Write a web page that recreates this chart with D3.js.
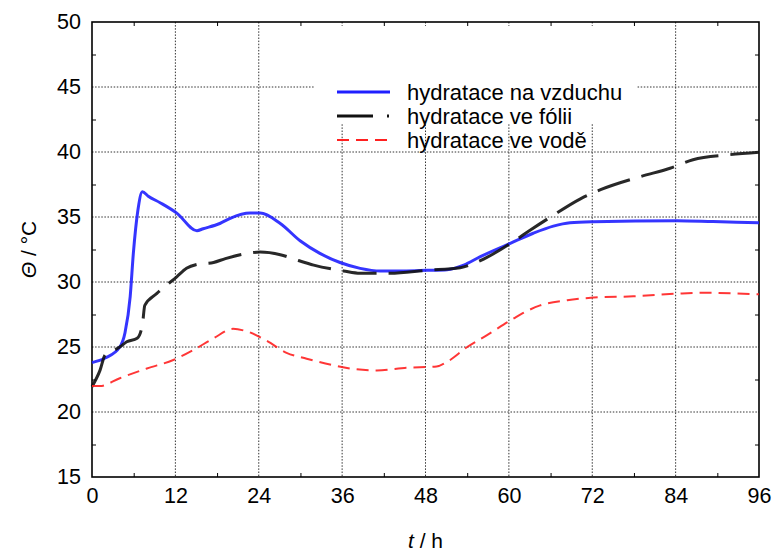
<!DOCTYPE html>
<html>
<head>
<meta charset="utf-8">
<script src="https://cdn.jsdelivr.net/npm/d3@7/dist/d3.min.js"></script>
<style>
  body { margin: 0; background: #fff; }
  text { font-family: "Liberation Sans", Arial, sans-serif; fill: #000; }
  .grid line { stroke: #333; stroke-width: 1; stroke-dasharray: 1.5,1.6; }
  .axis path { display: none; }
  .axis line { stroke: #000; }
</style>
</head>
<body>
<div id="chart"></div>
<script>
// series: time [h], temperature [°C]
const airT = [0, 1.9, 4, 4.75, 5.5, 5.95, 6.6, 7.25, 8.1, 9.8, 12.2, 15.1, 16, 18.4, 19.9, 22.75, 24.2, 27.1, 30, 32.8, 35.7, 38.6, 41.5, 45.3, 48.2, 51.1, 53.5, 55.9, 60.2, 63.5, 66.4, 68.8, 72.2, 84.2, 89.4, 96];
const airV = [23.8, 24.15, 25.0, 26.1, 28.9, 32.2, 35.5, 36.95, 36.6, 36.1, 35.3, 33.95, 34.1, 34.5, 34.9, 35.3, 35.3, 34.5, 33.15, 32.2, 31.5, 31.05, 30.85, 30.85, 30.9, 30.95, 31.3, 31.95, 32.97, 33.75, 34.3, 34.56, 34.64, 34.72, 34.65, 34.56];

const foilT = [0, 1.15, 1.9, 2.6, 4, 5, 6.5, 7.25, 7.6, 9.3, 12.2, 13.6, 15.1, 17.5, 19.2, 21.8, 24.2, 27.1, 29.7, 31.9, 36.2, 38.6, 42.9, 48.2, 53, 55.9, 60.6, 63.1, 66, 70.3, 73.2, 78.9, 83.2, 86.5, 91.4, 96];
const foilV = [21.95, 23.2, 24.4, 24.6, 25.0, 25.4, 25.67, 26.7, 28.2, 29.1, 30.4, 31.05, 31.35, 31.5, 31.8, 32.15, 32.3, 32.1, 31.65, 31.3, 30.85, 30.67, 30.67, 30.9, 31.1, 31.65, 33.1, 34.0, 35.0, 36.4, 37.1, 38.1, 38.75, 39.4, 39.77, 39.98];

const waterT = [0, 1.15, 4, 7.9, 11.7, 14.6, 17.5, 20.3, 22.3, 25.1, 28, 30.9, 34.7, 38.1, 41, 45.3, 49.6, 51.1, 54, 56.8, 60.7, 62, 64.5, 68.4, 72.2, 77.9, 84.2, 88.5, 96];
const waterV = [22.0, 22.0, 22.6, 23.35, 24.0, 24.77, 25.67, 26.4, 26.2, 25.5, 24.55, 24.1, 23.6, 23.28, 23.2, 23.4, 23.5, 23.85, 25.0, 25.9, 27.2, 27.6, 28.2, 28.6, 28.8, 28.9, 29.1, 29.17, 29.05];

const xTicks = [0, 12, 24, 36, 48, 60, 72, 84, 96];
const yTicks = [15, 20, 25, 30, 35, 40, 45, 50];
const legendLabels = ['hydratace na vzduchu', 'hydratace ve fólii', 'hydratace ve vodě'];

const width = 773, height = 551;
const margin = {top: 22, right: 14, bottom: 74, left: 92};
const innerW = width - margin.left - margin.right;
const innerH = height - margin.top - margin.bottom;

const svg = d3.select('#chart').append('svg')
    .attr('width', width)
    .attr('height', height);

const chart = svg.append('g')
    .attr('transform', `translate(${margin.left},${margin.top})`);

const x = d3.scaleLinear().domain([0, 96]).range([0, innerW]);
const y = d3.scaleLinear().domain([15, 50]).range([innerH, 0]);

// dotted grid
const grid = chart.append('g').attr('class', 'grid');
grid.selectAll('.gx')
    .data(xTicks.slice(1, -1))
    .join('line')
    .attr('x1', d => x(d)).attr('x2', d => x(d))
    .attr('y1', 0).attr('y2', innerH);
grid.selectAll('.gy')
    .data(yTicks.slice(1, -1))
    .join('line')
    .attr('x1', 0).attr('x2', innerW)
    .attr('y1', d => y(d)).attr('y2', d => y(d));

// white legend background hides the grid behind it
chart.append('rect')
    .attr('x', x(32)).attr('y', y(49.7))
    .attr('width', x(78.3) - x(32))
    .attr('height', y(42.2) - y(49.7))
    .attr('fill', '#fff');

// minor ticks (inward) on all four sides
const minorX = d3.range(6, 96, 12);
const minorY = d3.range(17.5, 50, 5);
chart.append('g').attr('class', 'axis')
    .attr('transform', `translate(0,${innerH})`)
    .call(d3.axisBottom(x).tickValues(minorX).tickSize(-4).tickFormat(''));
chart.append('g').attr('class', 'axis')
    .call(d3.axisTop(x).tickValues(minorX).tickSize(-4).tickFormat(''));
chart.append('g').attr('class', 'axis')
    .call(d3.axisLeft(y).tickValues(minorY).tickSize(-4).tickFormat(''));
chart.append('g').attr('class', 'axis')
    .attr('transform', `translate(${innerW},0)`)
    .call(d3.axisRight(y).tickValues(minorY).tickSize(-4).tickFormat(''));

// tick labels
const xAxis = chart.append('g').attr('class', 'axis')
    .attr('transform', `translate(0,${innerH})`)
    .call(d3.axisBottom(x).tickValues(xTicks).tickSize(0).tickPadding(11));
xAxis.selectAll('text').style('font-size', '21.5px');
const yAxis = chart.append('g').attr('class', 'axis')
    .call(d3.axisLeft(y).tickValues(yTicks).tickSize(0).tickPadding(11));
yAxis.selectAll('text').style('font-size', '21.5px');

// frame
chart.append('rect')
    .attr('width', innerW).attr('height', innerH)
    .attr('fill', 'none')
    .attr('stroke', '#000')
    .attr('stroke-width', 1.6);

// curves
const series = [
    {t: airT, v: airV, color: '#1f1fff', width: 3, dash: null},
    {t: foilT, v: foilV, color: '#111', width: 3, dash: '34,12'},
    {t: waterT, v: waterV, color: '#ff2020', width: 2, dash: '12,7'}
];
const line = d3.line()
    .x(d => x(d[0]))
    .y(d => y(d[1]))
    .curve(d3.curveMonotoneX);

chart.selectAll('.series')
    .data(series)
    .join('path')
    .attr('class', 'series')
    .attr('d', s => line(s.t.map((t, i) => [t, s.v[i]])))
    .attr('fill', 'none')
    .attr('stroke', s => s.color)
    .attr('stroke-width', s => s.width)
    .attr('stroke-dasharray', s => s.dash)
    .attr('stroke-linejoin', 'round')
    .attr('stroke-opacity', 0.9);

// legend
const legend = svg.append('g')
    .attr('transform', 'translate(337,92)');
const legendDash = [null, '36,14,2,30', '12,7'];
legend.selectAll('.lg-line')
    .data(series)
    .join('line')
    .attr('x1', 0).attr('x2', 53)
    .attr('y1', (d, i) => i * 24).attr('y2', (d, i) => i * 24)
    .attr('stroke', d => d.color)
    .attr('stroke-width', d => d.width)
    .attr('stroke-dasharray', (d, i) => legendDash[i]);
legend.selectAll('.lg-text')
    .data(legendLabels)
    .join('text')
    .attr('x', 70)
    .attr('y', (d, i) => i * 24)
    .attr('dy', '0.35em')
    .style('font-size', '22px')
    .text(d => d);

// axis titles
const xTitle = svg.append('text')
    .attr('x', margin.left + innerW / 2)
    .attr('y', 548)
    .attr('text-anchor', 'middle')
    .style('font-size', '21px');
xTitle.append('tspan').style('font-style', 'italic').text('t');
xTitle.append('tspan').text(' / h');

const yTitle = svg.append('text')
    .attr('transform', `translate(36,${margin.top + innerH / 2}) rotate(-90)`)
    .attr('text-anchor', 'middle')
    .style('font-size', '21px');
yTitle.append('tspan').style('font-style', 'italic').text('Θ');
yTitle.append('tspan').text(' / °C');
</script>
</body>
</html>
